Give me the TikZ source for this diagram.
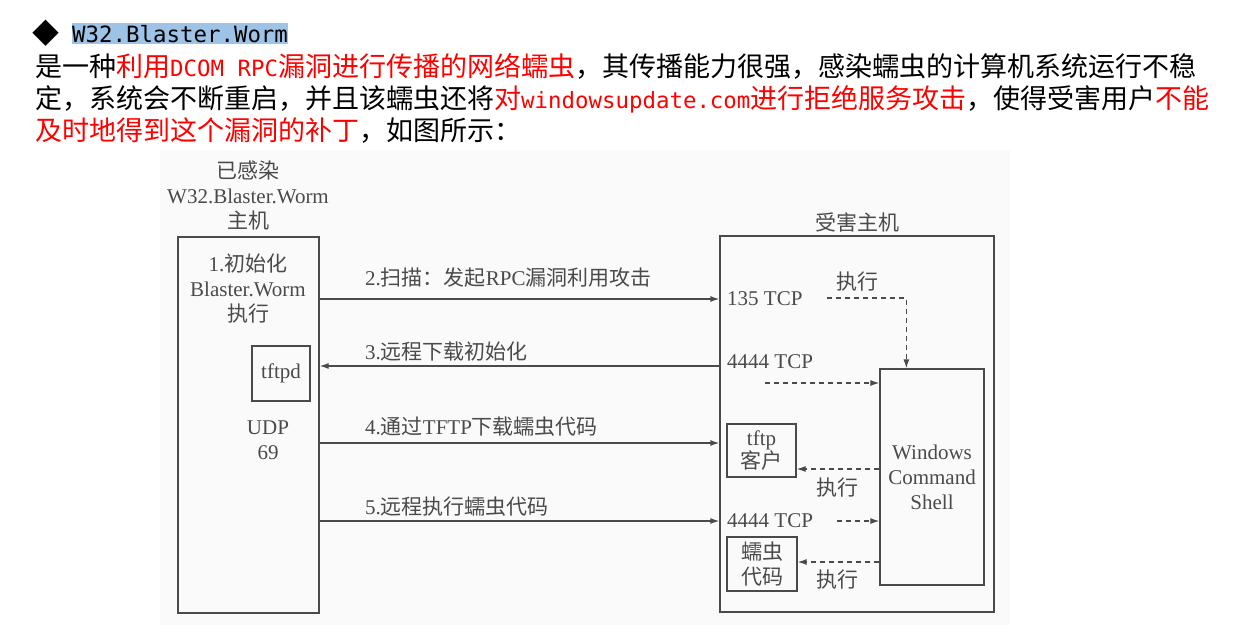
\documentclass[tikz,border=0pt]{standalone}
\usepackage{fontspec}
\setmainfont{Liberation Serif}
\newfontfamily\cjk{Noto Sans CJK SC}
\newfontfamily\hmono{DejaVu Sans Mono}
\usetikzlibrary{arrows.meta}
\definecolor{ink}{HTML}{4A4A4A}
\definecolor{hlblue}{HTML}{9DC3E6}
\definecolor{hred}{HTML}{FF0000}
\newcommand\zh[1]{{\cjk #1}}
\newcommand\mn[1]{{\hmono\fontsize{22.4}{27}\selectfont #1}}
\newcommand\hd{\fontsize{27}{32}\selectfont\cjk}
\newcommand\dg{\fontsize{21}{25}\selectfont}
\tikzset{
  txt/.style={inner sep=0, font=\dg, text=ink, align=center},
  hline/.style={anchor=base west, inner sep=0, font=\hd},
  dflow/.style={draw=ink, line width=1.2pt, dash pattern=on 5pt off 4pt, -{Latex[length=9pt,width=6pt]}}
}
\begin{document}
\begin{tikzpicture}[x=1pt,y=-1pt]
\useasboundingbox (0,0) rectangle (1243,638);
\fill[white] (0,0) rectangle (1243,638);
\fill[black!2] (160,150) rectangle (1010,625);

% header
\node[hline] (dia) at (32,43) {◆};
\fill[hlblue] (72,23) rectangle (288,44);
\node[anchor=base west, inner sep=0] (ttl) at (72,42) {\mn{W32.Blaster.Worm}};
\node[hline] (l1) at (35,76) {是一种\textcolor{hred}{利用\mn{DCOM RPC}漏洞进行传播的网络蠕虫}，其传播能力很强，感染蠕虫的计算机系统运行不稳};
\node[hline] (l2) at (35,108) {定，系统会不断重启，并且该蠕虫还将\textcolor{hred}{对\mn{windowsupdate.com}进行拒绝服务攻击}，使得受害用户\textcolor{hred}{不能}};
\node[hline] (l3) at (35,140) {\textcolor{hred}{及时地得到这个漏洞的补丁}，如图所示：};

% hosts
\begin{scope}[every node/.style={draw=ink, line width=1.3pt, inner sep=0, font=\dg, text=ink, align=center}]
    \node[minimum width=141pt, minimum height=376pt] (inf) at (248.5,425) {};
    \node[minimum width=274pt, minimum height=376pt] (vic) at (857,424) {};
    \node[minimum width=58pt, minimum height=55pt] (td) at (281,373.5) {tftpd};
    \node[minimum width=69pt, minimum height=53pt, font=\fontsize{21}{23}\selectfont] (tc) at (761.5,450.5) {tftp\\\zh{客户}};
    \node[minimum width=70pt, minimum height=54pt] (wc) at (762,564) {\zh{蠕虫}\\\zh{代码}};
    \node[minimum width=104pt, minimum height=216pt] (sh) at (932,477) {Windows\\Command\\Shell};
\end{scope}

\node[txt] (inflbl) at (248,195) {\zh{已感染}\\W32.Blaster.Worm\\\zh{主机}};
\node[txt] (vlbl) at (857,222) {\zh{受害主机}};
\node[txt] (init) at (248,289) {1.\zh{初始化}\\Blaster.Worm\\\zh{执行}};
\node[txt] (udp) at (268,440) {UDP\\69};

\node[txt, anchor=west] (p1) at (727,299) {135 TCP};
\node[txt, anchor=west] (p2) at (727,362) {4444 TCP};
\node[txt, anchor=west] (p3) at (727,521) {4444 TCP};

% messages
\node[txt, anchor=west] (m2) at (365,278) {2.\zh{扫描：发起}RPC\zh{漏洞利用攻击}};
\node[txt, anchor=west] (m3) at (365,352) {3.\zh{远程下载初始化}};
\node[txt, anchor=west] (m4) at (365,427) {4.\zh{通过}TFTP\zh{下载蠕虫代码}};
\node[txt, anchor=west] (m5) at (365,507) {5.\zh{远程执行蠕虫代码}};

\begin{scope}[every edge/.style={draw=ink, line width=1.3pt, -{Latex[length=9pt,width=6pt]}}]
    \path (inf.east |- p1) edge (vic.west |- p1);
    \path (vic.west |- 0,366) edge (inf.east |- 0,366);
    \path (inf.east |- 0,443) edge (vic.west |- 0,443);
    \path (inf.east |- p3) edge (vic.west |- p3);
\end{scope}

% inside the victim
\coordinate (e1) at (827,298);
\coordinate (e2) at (765,383);
\coordinate (e3) at (837,521);
\draw[dflow] (e1) -| ([xshift=27pt]sh.north west);
\draw[dflow] (e2) -- (e2 -| sh.west);
\draw[dflow] (sh.west |- 0,469) -- (tc.east |- 0,469);
\draw[dflow] (e3) -- (e3 -| sh.west);
\draw[dflow] (sh.west |- 0,562) -- (wc.east |- 0,562);

\node[txt] (x1) at (857,282) {\zh{执行}};
\node[txt] (x2) at (837,488) {\zh{执行}};
\node[txt] (x3) at (837,580) {\zh{执行}};
\end{tikzpicture}
\end{document}
